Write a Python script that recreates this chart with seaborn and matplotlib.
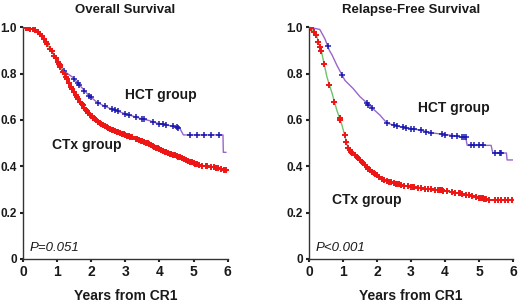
import numpy as np
import pandas as pd
import matplotlib
matplotlib.use('Agg')
import matplotlib.pyplot as plt
import seaborn as sns

# Overall survival curves (time in years, survival proportion)
os_ctx_t = [0, 0.2, 0.4, 0.58, 0.75, 0.88, 1.0, 1.14, 1.28, 1.4, 1.58, 1.72, 1.87, 2.05, 2.25, 2.45,
            2.63, 2.9, 3.22, 3.45, 3.71, 3.92, 4.2, 4.45, 4.68, 4.9, 5.17, 5.45, 5.76, 5.9, 6.0]
os_ctx_s = [1.0, 0.995, 0.985, 0.957, 0.92, 0.888, 0.855, 0.82, 0.78, 0.745, 0.70, 0.668, 0.64, 0.61, 0.586, 0.57,
            0.556, 0.54, 0.524, 0.51, 0.495, 0.479, 0.46, 0.447, 0.435, 0.42, 0.405, 0.398, 0.392, 0.385, 0.38]
os_hct_t = [0, 0.2, 0.4, 0.58, 0.75, 0.88, 1.0, 1.14, 1.3, 1.45, 1.58, 1.75, 1.9, 2.16, 2.35, 2.54,
            2.92, 3.2, 3.42, 3.7, 3.92, 4.3, 4.59, 4.7, 5.86, 5.87, 5.95]
os_hct_s = [1.0, 0.995, 0.985, 0.957, 0.92, 0.888, 0.855, 0.82, 0.80, 0.785, 0.763, 0.735, 0.71, 0.677, 0.662, 0.65,
            0.63, 0.617, 0.607, 0.597, 0.586, 0.575, 0.565, 0.535, 0.535, 0.46, 0.46]

# Relapse-free survival curves
rfs_ctx_t = [0, 0.1, 0.24, 0.38, 0.53, 0.68, 0.82, 0.97, 1.15, 1.3, 1.5, 1.65, 1.79, 2.0, 2.09, 2.25,
             2.47, 2.75, 3.06, 3.45, 3.85, 4.1, 4.44, 4.75, 5.03, 5.2, 5.41, 6.0]
rfs_ctx_s = [1.0, 0.99, 0.957, 0.888, 0.785, 0.715, 0.642, 0.578, 0.478, 0.455, 0.427, 0.405, 0.384, 0.36, 0.35, 0.337,
             0.327, 0.318, 0.31, 0.303, 0.297, 0.29, 0.284, 0.272, 0.263, 0.258, 0.254, 0.254]
rfs_hct_t = [0, 0.32, 0.47, 0.6, 0.68, 0.82, 0.95, 1.06, 1.3, 1.5, 1.65, 1.79, 2.09, 2.29, 2.68, 3.26,
             3.65, 4.1, 4.44, 4.6, 4.65, 5.35, 5.4, 5.8, 5.82, 6.0]
rfs_hct_s = [1.0, 0.99, 0.95, 0.9, 0.88, 0.836, 0.80, 0.77, 0.735, 0.70, 0.68, 0.66, 0.62, 0.586, 0.57, 0.556,
             0.543, 0.535, 0.526, 0.526, 0.49, 0.49, 0.457, 0.457, 0.427, 0.427]

# censoring marks (years)
os_ctx_cens = [0.1, 0.15, 0.22, 0.3, 0.35, 0.45, 0.5, 0.55, 0.62, 0.68, 0.72, 0.8, 0.85, 0.92, 0.96, 1.05, 1.1,
               1.18, 1.22, 1.3, 1.35, 1.45, 1.5, 1.55, 1.62, 1.68, 1.75, 1.8, 1.85, 1.92, 1.98, 2.02, 2.1, 2.15,
               2.2, 2.3, 2.35, 2.4, 2.5, 2.55, 2.6, 2.7, 2.75, 2.8, 2.85, 2.95, 3.0, 3.05, 3.1, 3.15, 3.3, 3.35,
               3.4, 3.5, 3.55, 3.6, 3.65, 3.75, 3.8, 3.85, 3.95, 4.0, 4.05, 4.1, 4.15, 4.25, 4.3, 4.35, 4.4,
               4.5, 4.55, 4.6, 4.72, 4.78, 4.85, 4.95, 5.0, 5.05, 5.1, 5.25, 5.35, 5.5, 5.6, 5.7, 5.8, 5.95,
               1.02, 1.08, 1.26, 1.42, 1.58, 1.72, 1.88, 2.05, 2.25, 2.45, 2.65, 2.9, 3.2, 3.45, 3.7, 3.9,
               4.2, 4.45, 4.65, 4.9, 5.15, 5.4, 5.65, 5.9]
os_hct_cens = [1.2, 1.5, 1.6, 1.65, 1.8, 1.95, 2.0, 2.2, 2.4, 2.6, 2.7, 2.8, 3.0, 3.1, 3.3, 3.5, 3.55, 3.8,
               4.0, 4.1, 4.2, 4.4, 4.5, 4.55, 4.9, 5.1, 5.3, 5.5, 5.75]
rfs_ctx_cens = [0.05, 0.15, 0.2, 0.28, 0.33, 0.36, 0.45, 0.6, 0.75, 0.9, 0.92, 1.05, 1.1, 1.2, 1.25, 1.35, 1.4,
                1.45, 1.55, 1.6, 1.7, 1.75, 1.85, 1.9, 1.95, 2.05, 2.15, 2.2, 2.3, 2.35, 2.4, 2.55, 2.6, 2.65,
                2.8, 2.9, 3.0, 3.1, 3.2, 3.3, 3.4, 3.5, 3.6, 3.7, 3.8, 3.9, 3.95, 4.05, 4.2, 4.3, 4.4, 4.5,
                4.6, 4.7, 4.8, 4.9, 5.0, 5.1, 5.15, 5.3, 5.45, 5.55, 5.65, 5.75, 5.85, 5.95,
                1.15, 1.28, 1.5, 1.65, 1.8, 2.0, 2.5, 2.7, 3.05, 3.85, 3.88, 4.45, 5.05, 5.2]
rfs_hct_cens = [0.55, 0.98, 1.7, 1.75, 1.85, 2.3, 2.5, 2.6, 2.75, 2.85, 3.0, 3.1, 3.3, 3.45, 3.6, 3.9, 4.0,
                4.2, 4.35, 4.5, 4.55, 4.6, 4.75, 4.85, 5.0, 5.1, 5.45, 5.6, 5.65]

panels = [
    ('Overall Survival', 'P=0.051', (os_hct_t, os_hct_s, os_hct_cens), (os_ctx_t, os_ctx_s, os_ctx_cens),
     (2.98, 0.707), (0.85, 0.49)),
    ('Relapse-Free Survival', 'P<0.001', (rfs_hct_t, rfs_hct_s, rfs_hct_cens), (rfs_ctx_t, rfs_ctx_s, rfs_ctx_cens),
     (3.2, 0.65), (0.68, 0.254)),
]

sns.set_style('ticks')
plt.rcParams['font.family'] = ['Liberation Sans', 'DejaVu Sans']

fig = plt.figure(figsize=(5.2, 3.05), dpi=100)
axes = [fig.add_axes([0.044, 0.151, 0.394, 0.76]), fig.add_axes([0.594, 0.151, 0.393, 0.76])]

for ax, (title, ptxt, hct, ctx, hct_pos, ctx_pos) in zip(axes, panels):
    for (t, s, cens), lc, mc, ms, mw in [(hct, '#9a66c8', '#1a1ab0', 16, 1.1), (ctx, '#6cc46c', '#ee1515', 22, 1.4)]:
        df = pd.DataFrame({'t': t, 's': s})
        sns.lineplot(data=df, x='t', y='s', ax=ax, color=lc, lw=1.0)
        cdf = pd.DataFrame({'t': cens, 's': np.interp(cens, t, s)})
        sns.scatterplot(data=cdf, x='t', y='s', ax=ax, marker='+', color=mc, s=ms, linewidth=mw, zorder=3)

    ax.set_xlim(0, 6)
    ax.set_ylim(0, 1.0)
    ax.set_xticks(range(7))
    ax.set_xticklabels([str(i) for i in range(7)], fontsize=10, fontweight='bold', color='#1a1a1a')
    ax.set_yticks([0, 0.2, 0.4, 0.6, 0.8, 1.0])
    ax.set_yticklabels(['0', '0.2', '0.4', '0.6', '0.8', '1.0'], fontsize=8.5, fontweight='bold', color='#1a1a1a')
    ax.tick_params(length=2.5, width=1.5, pad=2, color='#222222')
    for sp in ['left', 'bottom']:
        ax.spines[sp].set_color('#333333')
        ax.spines[sp].set_linewidth(1.0)
    sns.despine(ax=ax)
    ax.set_ylabel('')
    ax.set_xlabel('Years from CR1', fontsize=10, fontweight='bold', color='#1a1a1a', labelpad=7)
    ax.set_title(title, fontsize=9.5, fontweight='bold', color='#1a1a1a', pad=10)
    ax.text(hct_pos[0], hct_pos[1], 'HCT group', fontsize=10, fontweight='bold', va='center', color='#1a1a1a')
    ax.text(ctx_pos[0], ctx_pos[1], 'CTx group', fontsize=10, fontweight='bold', va='center', color='#1a1a1a')
    ax.text(0.2, 0.047, ptxt, fontsize=9.5, fontstyle='italic', va='center', color='#1a1a1a')

fig.savefig('out.png', dpi=100)
